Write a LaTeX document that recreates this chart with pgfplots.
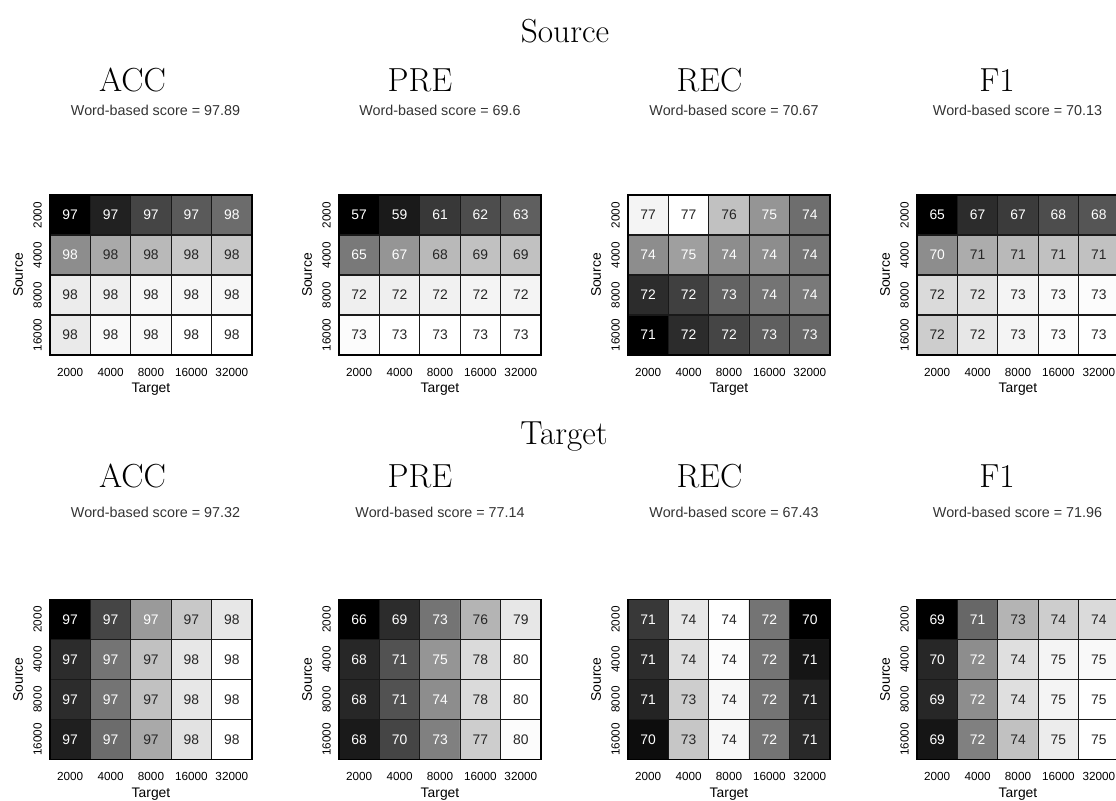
\documentclass[border=0pt]{standalone}
\usepackage{pgfplots}
\usepackage{pgfplotstable}
\pgfplotsset{compat=1.18}
\usepackage{fontspec}
\newfontfamily\arial{Liberation Sans}
\definecolor{k}{gray}{0.15}

% columns: x (Target index), y (0=16000 ... 3=2000), g (grey level of cell), v (shown value), c (text colour: w/k)
\pgfplotstableread{
x y g v c
0 0 0.91 98 k
1 0 0.97 98 k
2 0 0.97 98 k
3 0 1.00 98 k
4 0 1.00 98 k
0 1 0.92 98 k
1 1 0.93 98 k
2 1 0.96 98 k
3 1 0.96 98 k
4 1 0.96 98 k
0 2 0.55 98 w
1 2 0.66 98 k
2 2 0.72 98 k
3 2 0.78 98 k
4 2 0.78 98 k
0 3 0.00 97 w
1 3 0.13 97 w
2 3 0.27 97 w
3 3 0.35 97 w
4 3 0.42 98 w
}\sACC
\pgfplotstableread{
x y g v c
0 0 0.98 73 k
1 0 1.00 73 k
2 0 1.00 73 k
3 0 1.00 73 k
4 0 1.00 73 k
0 1 0.93 72 k
1 1 0.93 72 k
2 1 0.94 72 k
3 1 0.95 72 k
4 1 0.95 72 k
0 2 0.47 65 w
1 2 0.58 67 w
2 2 0.72 68 k
3 2 0.75 69 k
4 2 0.75 69 k
0 3 0.00 57 w
1 3 0.10 59 w
2 3 0.22 61 w
3 3 0.30 62 w
4 3 0.37 63 w
}\sPRE
\pgfplotstableread{
x y g v c
0 0 0.00 71 w
1 0 0.17 72 w
2 0 0.27 72 w
3 0 0.37 73 w
4 0 0.40 73 w
0 1 0.17 72 w
1 1 0.25 72 w
2 1 0.38 73 w
3 1 0.45 74 w
4 1 0.47 74 w
0 2 0.55 74 w
1 2 0.62 75 w
2 2 0.55 74 w
3 2 0.55 74 w
4 2 0.45 74 w
0 3 0.95 77 k
1 3 1.00 77 k
2 3 0.75 76 k
3 3 0.58 75 w
4 3 0.43 74 w
}\sREC
\pgfplotstableread{
x y g v c
0 0 0.80 72 k
1 0 0.90 72 k
2 0 0.95 73 k
3 0 0.98 73 k
4 0 1.00 73 k
0 1 0.85 72 k
1 1 0.88 72 k
2 1 0.95 73 k
3 1 0.97 73 k
4 1 0.98 73 k
0 2 0.55 70 w
1 2 0.67 71 k
2 2 0.72 71 k
3 2 0.75 71 k
4 2 0.75 71 k
0 3 0.00 65 w
1 3 0.17 67 w
2 3 0.23 67 w
3 3 0.30 68 w
4 3 0.33 68 w
}\sFI
\pgfplotstableread{
x y g v c
0 0 0.12 97 w
1 0 0.42 97 w
2 0 0.66 97 k
3 0 0.88 98 k
4 0 1.00 98 k
0 1 0.17 97 w
1 1 0.45 97 w
2 1 0.75 97 k
3 1 0.90 98 k
4 1 1.00 98 k
0 2 0.17 97 w
1 2 0.45 97 w
2 2 0.75 97 k
3 2 0.90 98 k
4 2 1.00 98 k
0 3 0.00 97 w
1 3 0.27 97 w
2 3 0.60 97 w
3 3 0.78 97 k
4 3 0.90 98 k
}\tACC
\pgfplotstableread{
x y g v c
0 0 0.10 68 w
1 0 0.27 70 w
2 0 0.50 73 w
3 0 0.80 77 k
4 0 0.98 80 k
0 1 0.15 68 w
1 1 0.32 71 w
2 1 0.55 74 w
3 1 0.85 78 k
4 1 1.00 80 k
0 2 0.15 68 w
1 2 0.32 71 w
2 2 0.58 75 w
3 2 0.85 78 k
4 2 1.00 80 k
0 3 0.00 66 w
1 3 0.17 69 w
2 3 0.45 73 w
3 3 0.70 76 k
4 3 0.90 79 k
}\tPRE
\pgfplotstableread{
x y g v c
0 0 0.05 70 w
1 0 0.77 73 k
2 0 0.96 74 k
3 0 0.45 72 w
4 0 0.16 71 w
0 1 0.14 71 w
1 1 0.80 73 k
2 1 0.96 74 k
3 1 0.45 72 w
4 1 0.14 71 w
0 2 0.17 71 w
1 2 0.87 74 k
2 2 0.98 74 k
3 2 0.45 72 w
4 2 0.08 71 w
0 3 0.22 71 w
1 3 0.90 74 k
2 3 1.00 74 k
3 3 0.45 72 w
4 3 0.00 70 w
}\tREC
\pgfplotstableread{
x y g v c
0 0 0.08 69 w
1 0 0.50 72 w
2 0 0.75 74 k
3 0 0.92 75 k
4 0 1.00 75 k
0 1 0.15 69 w
1 1 0.55 72 w
2 1 0.87 74 k
3 1 0.95 75 k
4 1 1.00 75 k
0 2 0.15 70 w
1 2 0.55 72 w
2 2 0.87 74 k
3 2 0.95 75 k
4 2 0.97 75 k
0 3 0.00 69 w
1 3 0.40 71 w
2 3 0.70 73 k
3 3 0.80 74 k
4 3 0.85 74 k
}\tFI

\pgfplotsset{
  hmbase/.style={
    scale only axis, width=151.5pt, height=120pt, anchor=north west,
    xmin=-0.5, xmax=4.5, ymin=-0.5, ymax=3.5,
  },
  hm/.style={hmbase,
    colormap={bw}{gray(0cm)=(0); gray(1cm)=(1)},
    point meta min=0, point meta max=1,
    xtick={0,1,2,3,4}, xticklabels={2000,4000,8000,16000,32000},
    ytick={0,1,2,3}, yticklabels={16000,8000,4000,2000},
    minor xtick={0.5,1.5,2.5,3.5}, minor ytick={0.5,1.5,2.5},
    xminorgrids=true, yminorgrids=true,
    minor grid style={black!90, line width=0.95pt},
    major tick length=0pt, minor tick length=0pt,
    axis line style={black, line width=0.9pt},
    axis on top,
    tick label style={font=\arial\fontsize{8.8}{10}\selectfont},
    xticklabel style={inner sep=0pt, anchor=north, yshift=-9.75pt},
    yticklabel style={xshift=-6pt, rotate=90, anchor=south, inner sep=0pt},
    xlabel={Target}, ylabel={Source},
    label style={font=\arial\fontsize{10.4}{12}\selectfont},
    xlabel style={at={(axis description cs:0.5,-0.215)}, anchor=center},
    ylabel style={at={(axis description cs:-0.158,0.5)}, anchor=center},
  },
  cells/.style={matrix plot*, point meta=explicit, mesh/cols=5},
  nums/.style={only marks, mark=none, point meta=explicit symbolic,
    unbounded coords=discard,
    nodes near coords,
    every node near coord/.append style={font=\arial\fontsize{10.4}{12}\selectfont, anchor=center, inner sep=0pt},
  },
}

\newcommand\heat[3]{%
\begin{axis}[hm, at={(#1*0.75pt,-#2*0.75pt)}]
\addplot[cells] table[x=x,y=y,meta=g]{#3};
\end{axis}
\begin{axis}[hmbase, at={(#1*0.75pt,-#2*0.75pt)}, hide axis]
\addplot[nums, every node near coord/.append style={text=white},
  y filter/.expression={\thisrow{g}<0.64 ? y : nan}] table[x=x,y=y,meta=v]{#3};
\addplot[nums, every node near coord/.append style={text=k},
  y filter/.expression={\thisrow{g}<0.64 ? nan : y}] table[x=x,y=y,meta=v]{#3};
\end{axis}}

\begin{document}
\begin{tikzpicture}
\path[use as bounding box] (0,0) rectangle (837pt,-600pt);
\heat{50}{195}{\sACC}
\heat{339}{195}{\sPRE}
\heat{628}{195}{\sREC}
\heat{917}{195}{\sFI}
\heat{50}{599.5}{\tACC}
\heat{339}{599.5}{\tPRE}
\heat{628}{599.5}{\tREC}
\heat{917}{599.5}{\tFI}

\tikzset{big/.style={font=\fontsize{25}{30}\selectfont, anchor=base, inner sep=0pt},
         sub/.style={font=\arial\fontsize{10.75}{12}\selectfont, anchor=base, inner sep=0pt, text=black!80}}
\node[big] at (565*0.75pt,-42*0.75pt) {Source};
\node[big] at (132.5*0.75pt,-91*0.75pt) {ACC};
\node[big] at (420*0.75pt,-91*0.75pt) {PRE};
\node[big] at (709.5*0.75pt,-91*0.75pt) {REC};
\node[big] at (997*0.75pt,-91*0.75pt) {F1};
\node[sub] at (155.5*0.75pt,-115*0.75pt) {Word-based score = 97.89};
\node[sub] at (440*0.75pt,-115*0.75pt) {Word-based score = 69.6};
\node[sub] at (734*0.75pt,-115*0.75pt) {Word-based score = 70.67};
\node[sub] at (1017.5*0.75pt,-115*0.75pt) {Word-based score = 70.13};

\node[big] at (564*0.75pt,-444*0.75pt) {Target};
\node[big] at (132.5*0.75pt,-487*0.75pt) {ACC};
\node[big] at (420*0.75pt,-487*0.75pt) {PRE};
\node[big] at (709.5*0.75pt,-487*0.75pt) {REC};
\node[big] at (997*0.75pt,-487*0.75pt) {F1};
\node[sub] at (155.5*0.75pt,-517*0.75pt) {Word-based score = 97.32};
\node[sub] at (440*0.75pt,-517*0.75pt) {Word-based score = 77.14};
\node[sub] at (734*0.75pt,-517*0.75pt) {Word-based score = 67.43};
\node[sub] at (1017.5*0.75pt,-517*0.75pt) {Word-based score = 71.96};
\end{tikzpicture}
\end{document}
